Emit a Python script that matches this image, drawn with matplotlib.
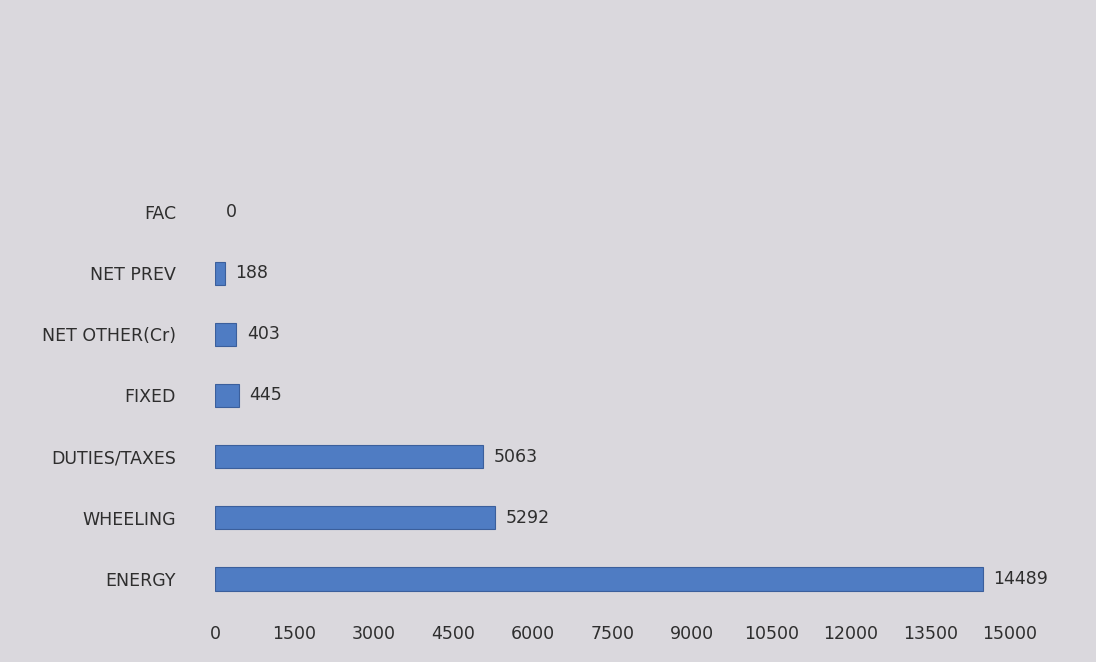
import matplotlib
matplotlib.use("Agg")
import matplotlib.pyplot as plt

categories = ["ENERGY", "WHEELING", "DUTIES/TAXES", "FIXED", "NET OTHER(Cr)", "NET PREV", "FAC"]
values = [14489, 5292, 5063, 445, 403, 188, 0]
xticks = [0, 1500, 3000, 4500, 6000, 7500, 9000, 10500, 12000, 13500, 15000]

bg = "#dad8dd"
txt = "#2e2e2e"
fig = plt.figure(figsize=(10.96, 6.62), dpi=100, facecolor=bg)
ax = fig.add_axes([215/1096, 1 - 609.5/662, (1010-215)/1096, (609.5-181.5)/662])
ax.set_facecolor(bg)

pos = list(range(len(categories)))
lws = [0.8 if v > 0 else 0 for v in values]
ax.barh(pos, values, height=0.38, color="#4f7cc3", edgecolor="#3b5f9c", linewidth=lws)
for p, v in zip(pos, values):
    ax.text(v + 200, p, str(v), va="center", ha="left", fontsize=12.5, color=txt)

ax.set_xlim(0, 15000)
ax.set_ylim(-0.5, 6.5)
ax.set_yticks(pos)
ax.set_yticklabels(categories, fontsize=12.5, color=txt)
ax.set_xticks(xticks)
ax.set_xticklabels([str(t) for t in xticks], fontsize=12.5, color=txt)
ax.tick_params(axis="both", length=0)
ax.tick_params(axis="y", pad=28)
ax.tick_params(axis="x", pad=11)
for s in ax.spines.values():
    s.set_visible(False)

fig.savefig("out.png", dpi=100, facecolor=bg)
